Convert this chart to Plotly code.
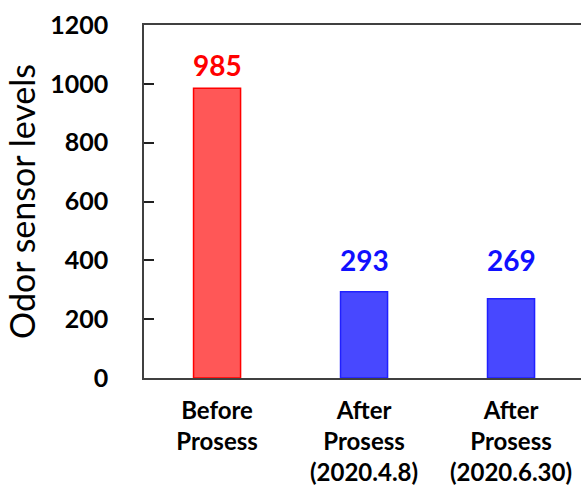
import plotly.graph_objects as go

# Odor sensor readings before and after the process
categories = ["Before<br>Prosess", "After<br>Prosess<br>(2020.4.8)", "After<br>Prosess<br>(2020.6.30)"]
levels = [985, 293, 269]
fill_colors = ["#FF5757", "#4848FF", "#4848FF"]
edge_colors = ["#FF0000", "#2020FF", "#2020FF"]
text_colors = ["#FF0000", "#1010FF", "#1010FF"]
y_ticks = [0, 200, 400, 600, 800, 1000, 1200]

x_pos = list(range(len(categories)))

fig = go.Figure(
    go.Bar(
        x=x_pos,
        y=levels,
        width=0.32,
        marker=dict(color=fill_colors, line=dict(color=edge_colors, width=1.5)),
        hoverinfo="x+y",
    )
)

# Value labels: the "after" readings share one label height above the taller bar
after_top = max(levels[1:])
for i, v in enumerate(levels):
    base = v if i == 0 else after_top
    shift = 4 if i == 0 else 13
    fig.add_annotation(
        x=x_pos[i],
        y=base,
        text=str(v),
        showarrow=False,
        yanchor="bottom",
        yshift=shift,
        font=dict(family="Lato", size=28, color=text_colors[i], weight="bold"),
    )

fig.update_layout(
    width=581,
    height=486,
    margin=dict(l=144, r=0, t=25, b=108),
    plot_bgcolor="white",
    paper_bgcolor="white",
    showlegend=False,
    font=dict(family="Lato", color="black"),
)

fig.update_xaxes(
    range=[-0.497, 2.476],
    tickmode="array",
    tickvals=x_pos,
    ticktext=categories,
    ticks="",
    ticklabelstandoff=10,
    showline=True,
    mirror=True,
    linecolor="#404040",
    linewidth=1.5,
    showgrid=False,
    tickfont=dict(family="Lato", size=24, color="black", weight="bold"),
)

fig.update_yaxes(
    range=[0, 1200],
    tickmode="array",
    tickvals=y_ticks,
    ticks="inside",
    ticklen=10,
    tickwidth=1.5,
    tickcolor="#202020",
    ticklabelstandoff=29,
    showline=True,
    linecolor="#404040",
    linewidth=1.5,
    showgrid=False,
    zeroline=False,
    tickfont=dict(family="Lato", size=25, color="black", weight="bold"),
    title=dict(text="Odor sensor levels", font=dict(family="Lato", size=34, color="black"), standoff=4),
)

fig.write_html("out.html")
